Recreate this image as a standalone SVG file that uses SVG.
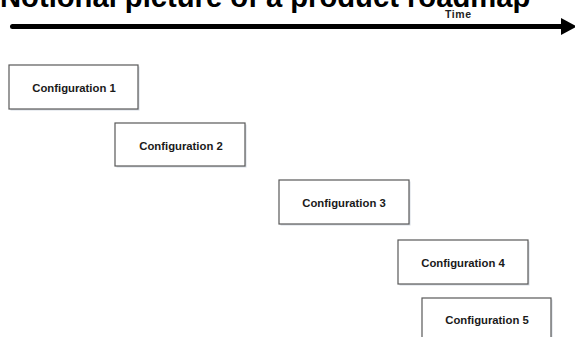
<svg xmlns="http://www.w3.org/2000/svg" width="575" height="337" viewBox="0 0 575 337">
  <style>
    .title { font-family: "Liberation Sans", Arial, sans-serif; font-weight: bold; font-size: 29.2px; fill: #000; }
    .axis-label { font-family: "Liberation Sans", Arial, sans-serif; font-weight: bold; font-size: 10.5px; fill: #222; }
    .box { fill: #fff; stroke: #595959; stroke-width: 1.2; }
    .shadow { fill: #d6dbe3; }
    .label { font-family: "Liberation Sans", Arial, sans-serif; font-weight: bold; font-size: 11.3px; fill: #1a1a1a; text-anchor: middle; }
  </style>

  <rect width="575" height="337" fill="#fff"/>

  <text class="title" x="0" y="7">Notional picture of a product roadmap</text>

  <!-- time axis -->
  <g id="connectors">
    <line x1="12.5" y1="26.5" x2="563" y2="26.5" stroke="#000" stroke-width="5" stroke-linecap="round"/>
    <polygon points="561,18 577,26.5 561,35" fill="#000"/>
  </g>
  <text class="axis-label" x="445" y="17.5" textLength="26">Time</text>

  <g id="config1">
    <rect class="shadow" x="10.5" y="66.5" width="129" height="44"/>
    <rect class="box" x="9" y="65" width="129" height="44"/>
    <text class="label" x="74" y="92">Configuration 1</text>
  </g>

  <g id="config2">
    <rect class="shadow" x="116.5" y="124.5" width="130" height="43"/>
    <rect class="box" x="115" y="123" width="130" height="43"/>
    <text class="label" x="181" y="149.5">Configuration 2</text>
  </g>

  <g id="config3">
    <rect class="shadow" x="280.5" y="181.5" width="130" height="44"/>
    <rect class="box" x="279" y="180" width="130" height="44"/>
    <text class="label" x="344" y="207">Configuration 3</text>
  </g>

  <g id="config4">
    <rect class="shadow" x="399.5" y="241.5" width="130" height="44"/>
    <rect class="box" x="398" y="240" width="130" height="44"/>
    <text class="label" x="463" y="267">Configuration 4</text>
  </g>

  <g id="config5">
    <rect class="shadow" x="423.5" y="299.5" width="129" height="44"/>
    <rect class="box" x="422" y="298" width="129" height="44"/>
    <text class="label" x="487" y="324">Configuration 5</text>
  </g>
</svg>
